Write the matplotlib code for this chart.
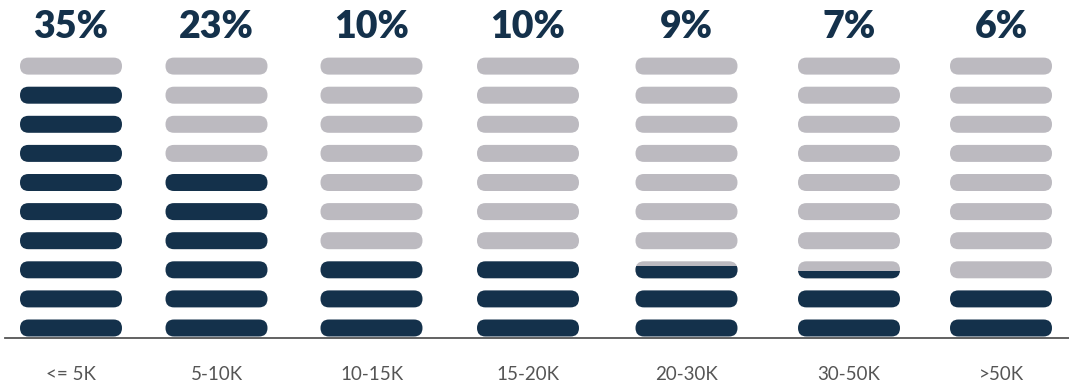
import matplotlib.pyplot as plt
from matplotlib.patches import FancyBboxPatch, Rectangle

# data
categories = ['<= 5K', '5-10K', '10-15K', '15-20K', '20-30K', '30-50K', '>50K']
percent = [35, 23, 10, 10, 9, 7, 6]
# number of filled pills per column (fractional = partly filled pill)
filled = [9, 6, 3, 3, 2.75, 2.43, 2]
n_rows = 10

dark = '#14314b'
gray = '#bcbac0'

# layout in pixels (axes coords == pixel coords)
W, H = 1069, 385
col_x = [71, 216.5, 371.5, 528, 686.5, 849, 1001]
pill_w, pill_h = 102, 17
row0_y = 328          # centre of the bottom pill
row_step = 29.1
base_y = 337.5

fig = plt.figure(figsize=(W / 100, H / 100), dpi=100)
ax = fig.add_axes([0, 0, 1, 1])
ax.set_xlim(0, W)
ax.set_ylim(H, 0)
ax.axis('off')


def pill(cx, cy, color):
    r = pill_h / 2
    # zero-height box padded by the radius -> fully rounded ends
    p = FancyBboxPatch((cx - pill_w / 2 + r, cy), pill_w - 2 * r, 0,
                       boxstyle=f'round,pad={r},rounding_size={r}',
                       facecolor=color, edgecolor='none', zorder=2)
    ax.add_patch(p)
    return p


for i, cat in enumerate(categories):
    cx = col_x[i]
    for r in range(n_rows):
        cy = row0_y - r * row_step
        frac = min(max(filled[i] - r, 0), 1)
        if frac >= 1:
            pill(cx, cy, dark)
        elif frac <= 0:
            pill(cx, cy, gray)
        else:
            pill(cx, cy, gray)
            p = pill(cx, cy, dark)
            top = cy + pill_h / 2 - frac * pill_h
            clip = Rectangle((cx - pill_w, top), 2 * pill_w, frac * pill_h + 2,
                             transform=ax.transData)
            p.set_clip_path(clip)
    ax.text(cx, 27, f'{percent[i]}%', ha='center', va='center',
            fontsize=27, fontweight='heavy', family='Lato', color=dark)
    ax.text(cx, 375, cat, ha='center', va='center',
            fontsize=13.5, fontweight='normal', family='Lato', color='#555555')

ax.plot([5, W], [base_y, base_y], color='#555555', lw=1.3, zorder=3)

fig.savefig('out.png', dpi=100)
